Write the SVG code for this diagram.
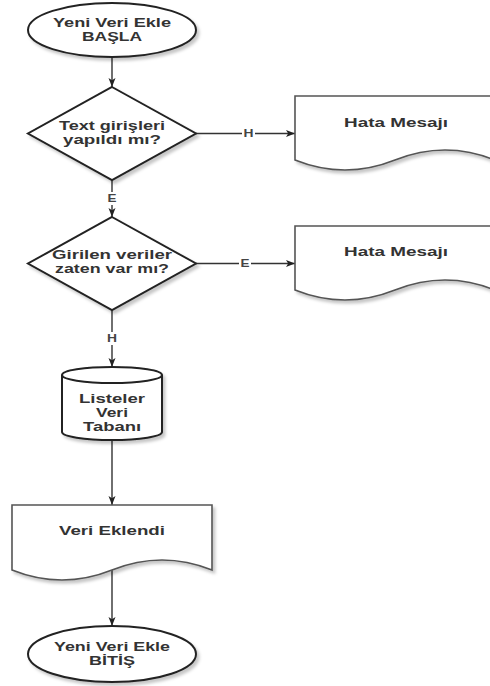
<svg xmlns="http://www.w3.org/2000/svg" width="490" height="686" viewBox="0 0 490 686">
  <defs>
    <filter id="shadow" x="-10%" y="-10%" width="130%" height="140%">
      <feDropShadow dx="2.5" dy="3" stdDeviation="1.8" flood-color="#000" flood-opacity="0.22"/>
    </filter>
    <marker id="arrow" markerUnits="userSpaceOnUse" markerWidth="10" markerHeight="8" refX="9" refY="4" orient="auto">
      <path d="M0,0.5 L9,4 L0,7.5 L2.2,4 Z" fill="#222"/>
    </marker>
  </defs>
  <style>
    .shape { fill: #fff; stroke: #222; stroke-width: 2; filter: url(#shadow); }
    .doc { fill: #fff; stroke: #555; stroke-width: 1.6; filter: url(#shadow); }
    .inner { fill: none; stroke: #222; stroke-width: 2; }
    .edge { fill: none; stroke: #333; stroke-width: 1.4; marker-end: url(#arrow); }
    text { font-family: "Liberation Sans", Arial, sans-serif; font-weight: bold; font-size: 12px; fill: #333; text-anchor: middle; }
    .lbl { font-size: 10px; fill: #444; }
    .lblbg { fill: #fff; }
  </style>

  <!-- connectors -->
  <g id="edges">
    <path class="edge" d="M112,57 V87"/>
    <path class="edge" d="M196,133.5 H295"/>
    <path class="edge" d="M112,180 V217"/>
    <path class="edge" d="M196,263.5 H295"/>
    <path class="edge" d="M112,310 V367"/>
    <path class="edge" d="M112,440 V505"/>
    <path class="edge" d="M112,570 V626"/>
    <!-- edge labels -->
    <rect class="lblbg" x="242" y="127" width="13" height="13"/>
    <text class="lbl" x="248.5" y="137" textLength="10" lengthAdjust="spacingAndGlyphs">H</text>
    <rect class="lblbg" x="106" y="192" width="12" height="13"/>
    <text class="lbl" x="112" y="202" textLength="9" lengthAdjust="spacingAndGlyphs">E</text>
    <rect class="lblbg" x="239" y="257" width="12" height="13"/>
    <text class="lbl" x="245" y="267" textLength="9" lengthAdjust="spacingAndGlyphs">E</text>
    <rect class="lblbg" x="105.5" y="332" width="13" height="13"/>
    <text class="lbl" x="112" y="342" textLength="10" lengthAdjust="spacingAndGlyphs">H</text>
  </g>

  <g id="start">
    <ellipse class="shape" cx="112" cy="30" rx="84" ry="27"/>
    <text x="112" y="27" textLength="118" lengthAdjust="spacingAndGlyphs">Yeni Veri Ekle</text>
    <text x="112" y="41" textLength="60" lengthAdjust="spacingAndGlyphs">BAŞLA</text>
  </g>

  <g id="check-input">
    <polygon class="shape" points="112,87 196,133.5 112,180 28,133.5"/>
    <text x="112" y="130" textLength="106" lengthAdjust="spacingAndGlyphs">Text girişleri</text>
    <text x="112" y="144" textLength="98" lengthAdjust="spacingAndGlyphs">yapıldı mı?</text>
  </g>

  <g id="error-1">
    <path class="doc" d="M295,96 H495 V160 Q445,140 395,160 Q345,180 295,160 Z"/>
    <text x="396" y="127" textLength="104" lengthAdjust="spacingAndGlyphs">Hata Mesajı</text>
  </g>

  <g id="check-exists">
    <polygon class="shape" points="112,217 196,263.5 112,310 28,263.5"/>
    <text x="112" y="259" textLength="120" lengthAdjust="spacingAndGlyphs">Girilen veriler</text>
    <text x="112" y="273" textLength="114" lengthAdjust="spacingAndGlyphs">zaten var mı?</text>
  </g>

  <g id="error-2">
    <path class="doc" d="M295,226 H495 V290 Q445,270 395,290 Q345,310 295,290 Z"/>
    <text x="396" y="256" textLength="104" lengthAdjust="spacingAndGlyphs">Hata Mesajı</text>
  </g>

  <g id="database">
    <path class="shape" d="M62,375 A50,8 0 0,1 162,375 V432 A50,8 0 0,1 62,432 Z"/>
    <path class="inner" d="M62,375 A50,8 0 0,0 162,375"/>
    <text x="112" y="403" textLength="66" lengthAdjust="spacingAndGlyphs">Listeler</text>
    <text x="112" y="417" textLength="32" lengthAdjust="spacingAndGlyphs">Veri</text>
    <text x="112" y="431" textLength="58" lengthAdjust="spacingAndGlyphs">Tabanı</text>
  </g>

  <g id="added">
    <path class="doc" d="M12,505 H212 V570 Q162,550 112,570 Q62,590 12,570 Z"/>
    <text x="112" y="535" textLength="106" lengthAdjust="spacingAndGlyphs">Veri Eklendi</text>
  </g>

  <g id="end">
    <ellipse class="shape" cx="112" cy="654" rx="84" ry="28"/>
    <text x="112" y="651" textLength="116" lengthAdjust="spacingAndGlyphs">Yeni Veri Ekle</text>
    <text x="112" y="665" textLength="46" lengthAdjust="spacingAndGlyphs">BİTİŞ</text>
  </g>
</svg>
